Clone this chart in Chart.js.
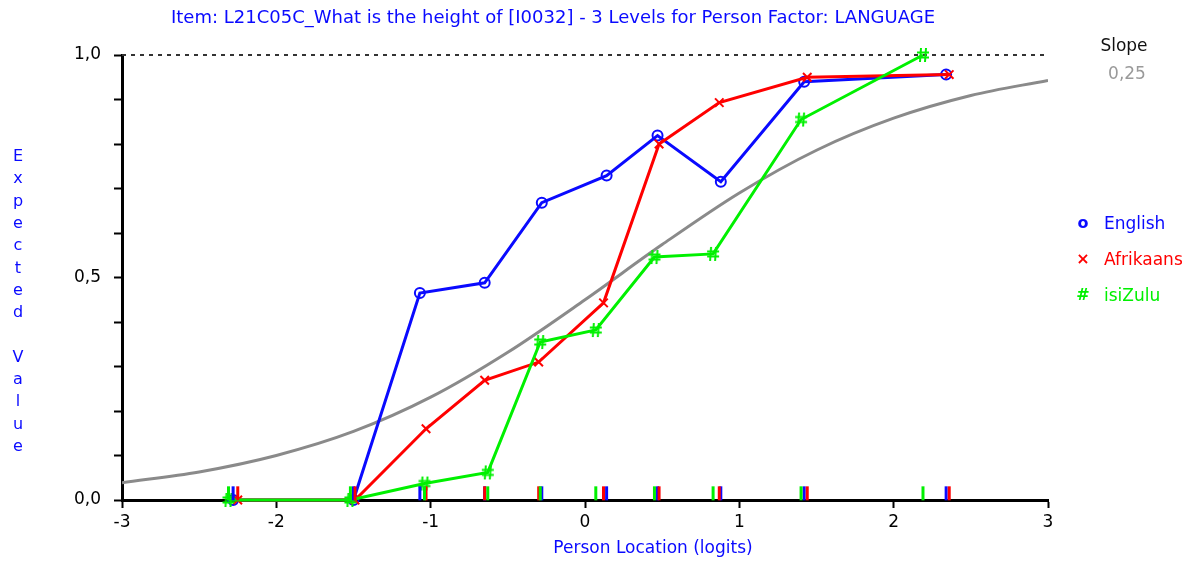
<!DOCTYPE html>
<html>
<head>
<meta charset="utf-8">
<script src="https://cdn.jsdelivr.net/npm/chart.js@4.4.1/dist/chart.umd.min.js"></script>
<style>
  body { margin: 0; background: #fff; }
  #wrap { width: 1199px; height: 561px; }
</style>
</head>
<body>
<div id="wrap"><canvas id="icc" width="1199" height="561"></canvas></div>
<script>
const titleText = "Item: L21C05C_What is the height of [I0032] - 3 Levels for Person Factor: LANGUAGE";
const xTitle = "Person Location (logits)";
const yTitle = "Expected Value";
const groups = ["English", "Afrikaans", "isiZulu"];
const slopeLabel = "Slope";
const slopeValue = "0,25";

// class interval means per group (logits) and observed means
const englishX = [-2.28, -1.50, -1.07, -0.65, -0.28, 0.14, 0.47, 0.88, 1.42, 2.34];
const englishY = [0.00, 0.00, 0.465, 0.488, 0.668, 0.729, 0.819, 0.715, 0.94, 0.956];
const afrikaansX = [-2.25, -1.49, -1.03, -0.65, -0.30, 0.12, 0.48, 0.87, 1.44, 2.36];
const afrikaansY = [0.00, 0.00, 0.16, 0.269, 0.31, 0.443, 0.80, 0.893, 0.95, 0.956];
const isizuluX = [-2.31, -1.52, -1.04, -0.63, -0.29, 0.07, 0.45, 0.83, 1.40, 2.19];
const isizuluY = [0.00, 0.00, 0.037, 0.062, 0.355, 0.382, 0.546, 0.553, 0.855, 1.00];

// expected value curve
const curveX = [-3, -2.5, -2, -1.5, -1, -0.5, 0, 0.5, 1, 1.5, 2, 2.5, 3];
const curveY = [0.039, 0.063, 0.100, 0.154, 0.231, 0.332, 0.450, 0.574, 0.690, 0.786, 0.858, 0.909, 0.943];

// dashed line at the top of the scale
const topLineX = [-3, 3];
const topLineY = [1, 1];

const BLUE = "#0a0aff";
const RED = "#ff0000";
const GREEN = "#00f000";
const GREY = "#8a8a8a";
const FONT = '"DejaVu Sans", sans-serif';

const toPoints = (xs, ys) => xs.map((x, i) => ({x: x, y: ys[i]}));

// '#' marker as a small canvas
function hashMarker(color) {
    const c = document.createElement("canvas");
    c.width = 14;
    c.height = 16;
    const g = c.getContext("2d");
    g.strokeStyle = color;
    g.lineWidth = 2;
    g.beginPath();
    g.moveTo(5, 1); g.lineTo(4, 15);
    g.moveTo(10, 1); g.lineTo(9, 15);
    g.moveTo(1, 5.5); g.lineTo(13, 5.5);
    g.moveTo(1, 10.5); g.lineTo(13, 10.5);
    g.stroke();
    return c;
}

function baseTicks(xs, color, order) {
    return {
        type: "scatter",
        data: xs.map(x => ({x: x, y: 0.015})),
        pointStyle: "line",
        rotation: 90,
        pointRadius: 7,
        borderWidth: 3,
        borderColor: color,
        backgroundColor: color,
        showLine: false,
        order: order,
        clip: false,
    };
}

const textPlugin = {
    id: "textPlugin",
    afterDraw(chart) {
        const ctx = chart.ctx;
        ctx.save();
        ctx.textBaseline = "middle";
        ctx.fillStyle = BLUE;
        ctx.textAlign = "center";
        ctx.font = "18px " + FONT;
        ctx.fillText(titleText, 553, 18);
        ctx.font = "17px " + FONT;
        ctx.fillText(xTitle, 653, 549);
        ctx.font = "16px " + FONT;
        yTitle.split("").forEach((ch, i) => ctx.fillText(ch, 18, 157 + i * 22.3));

        // legend
        const colors = [BLUE, RED, GREEN];
        const marks = ["o", "\u00d7", "#"];
        const rows = [225, 261, 297];
        groups.forEach((name, i) => {
            ctx.fillStyle = colors[i];
            ctx.textAlign = "center";
            ctx.font = "bold 16px " + FONT;
            ctx.fillText(marks[i], 1083, rows[i] - 1);
            ctx.textAlign = "left";
            ctx.font = "17px " + FONT;
            ctx.fillText(name, 1104, rows[i]);
        });

        ctx.textAlign = "center";
        ctx.fillStyle = "#111";
        ctx.font = "17px " + FONT;
        ctx.fillText(slopeLabel, 1124, 47);
        ctx.fillStyle = "#9a9a9a";
        ctx.fillText(slopeValue, 1127, 75);
        ctx.restore();
    }
};

new Chart(document.getElementById("icc"), {
    type: "line",
    data: {
        datasets: [
            baseTicks(isizuluX, GREEN, 0),
            baseTicks(afrikaansX, RED, 0),
            baseTicks(englishX, BLUE, 0),
            {
                label: groups[2],
                data: toPoints(isizuluX, isizuluY),
                borderColor: GREEN,
                borderWidth: 3,
                pointStyle: hashMarker(GREEN),
                order: 1,
                clip: false,
            },
            {
                label: groups[1],
                data: toPoints(afrikaansX, afrikaansY),
                borderColor: RED,
                borderWidth: 3,
                pointStyle: "crossRot",
                pointRadius: 6,
                pointBorderWidth: 2,
                order: 2,
                clip: false,
            },
            {
                label: groups[0],
                data: toPoints(englishX, englishY),
                borderColor: BLUE,
                borderWidth: 3,
                pointStyle: "circle",
                pointRadius: 5,
                pointBorderWidth: 2,
                pointBackgroundColor: "rgba(0,0,0,0)",
                order: 3,
                clip: false,
            },
            {
                label: "expected",
                data: toPoints(curveX, curveY),
                borderColor: GREY,
                borderWidth: 3,
                pointRadius: 0,
                cubicInterpolationMode: "monotone",
                order: 4,
            },
            {
                label: "top",
                data: toPoints(topLineX, topLineY),
                borderColor: "#333",
                borderWidth: 2,
                borderDash: [4, 5],
                pointRadius: 0,
                order: 5,
                clip: false,
            },
        ],
    },
    options: {
        responsive: false,
        animation: false,
        layout: {padding: {left: 0, right: 151, top: 55, bottom: 0}},
        plugins: {
            legend: {display: false},
            tooltip: {enabled: false},
        },
        scales: {
            x: {
                type: "linear",
                min: -3,
                max: 3,
                afterFit: (scale) => { scale.height = 61; },
                border: {color: "#000", width: 3},
                grid: {drawOnChartArea: false, tickLength: 8, tickColor: "#000", tickWidth: 2},
                ticks: {
                    stepSize: 1,
                    padding: 4,
                    color: "#000",
                    font: {family: FONT, size: 17},
                    callback: (v) => String(v),
                },
            },
            y: {
                min: 0,
                max: 1,
                afterFit: (scale) => { scale.width = 122; },
                border: {color: "#000", width: 3},
                grid: {drawOnChartArea: false, tickLength: 8, tickColor: "#000", tickWidth: 2},
                ticks: {
                    stepSize: 0.1,
                    autoSkip: false,
                    padding: 13,
                    color: "#000",
                    font: {family: FONT, size: 17},
                    callback: (v) => {
                        const k = Math.round(v * 10);
                        return k % 5 === 0 ? (k / 10).toFixed(1).replace(".", ",") : "";
                    },
                },
            },
        },
    },
    plugins: [textPlugin],
});
</script>
</body>
</html>
